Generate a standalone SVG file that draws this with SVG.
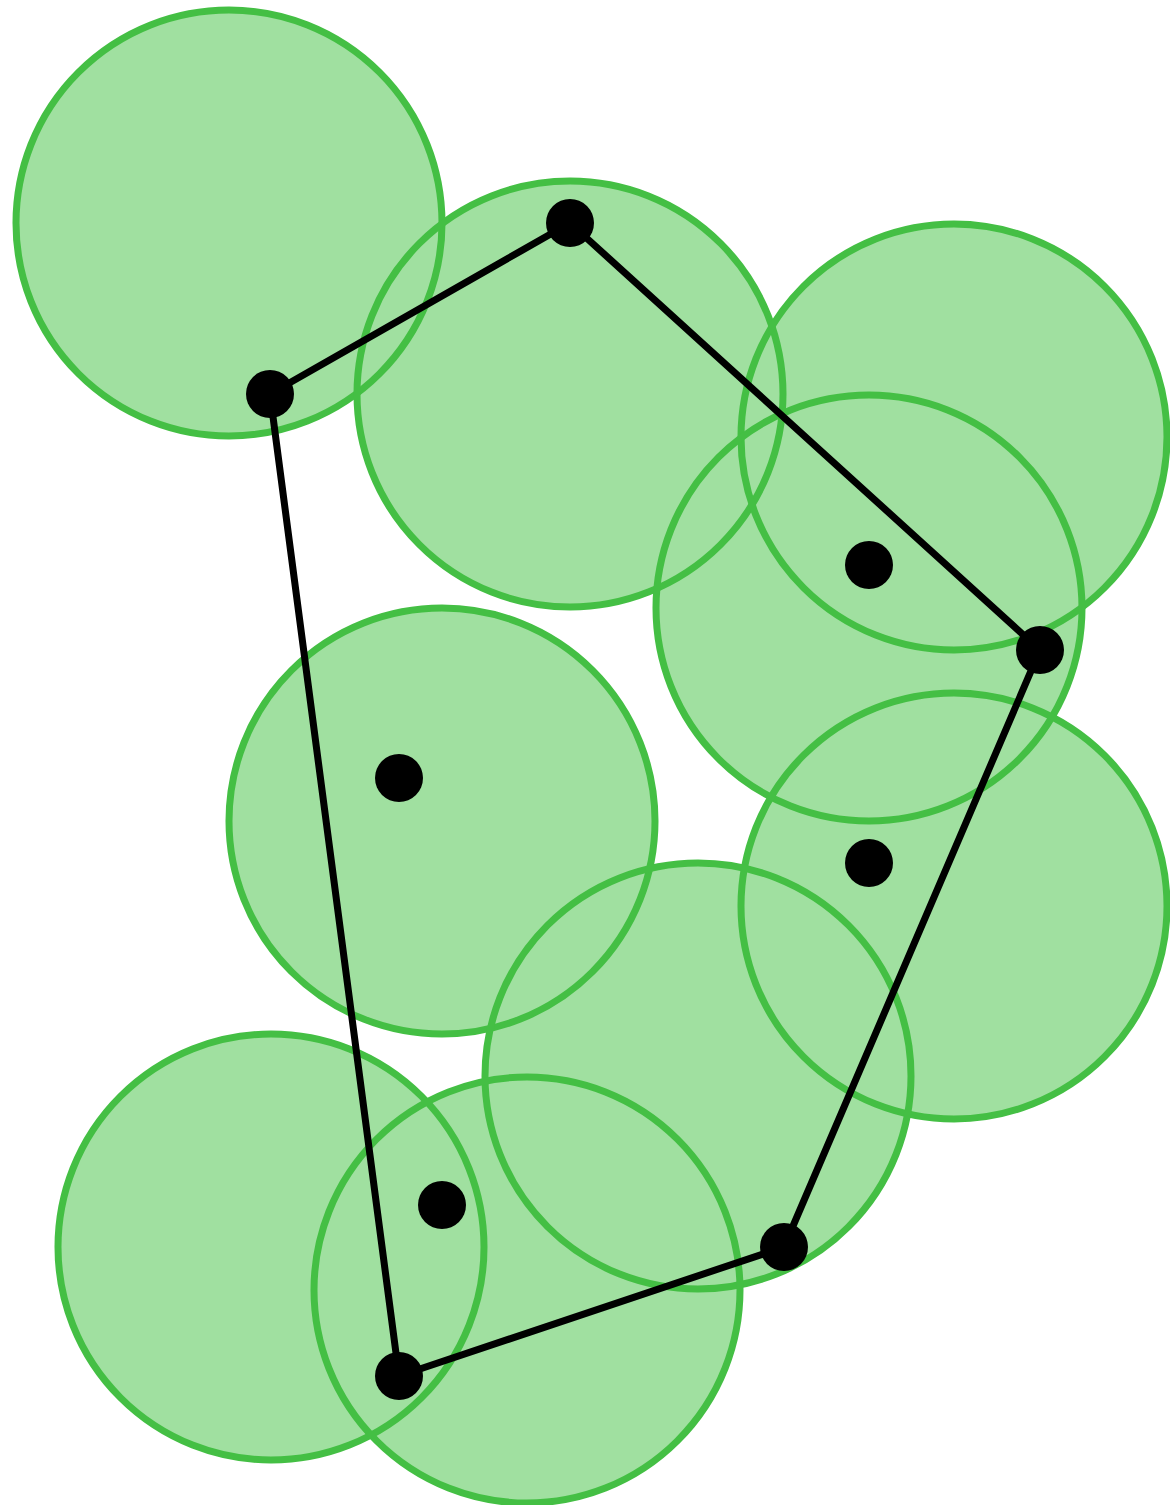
<svg xmlns="http://www.w3.org/2000/svg" width="1170" height="1505" viewBox="0 0 1170 1505">
<style>
.fill{fill:#a0e0a0;stroke:none}
.ring{fill:none;stroke:#44bf44;stroke-width:7}
.edge{fill:none;stroke:#000;stroke-width:7;stroke-linejoin:round}
.dot{fill:#000}
</style>
<defs>
<circle id="c1" cx="229" cy="223" r="213"/>
<circle id="c2" cx="570" cy="394" r="213"/>
<circle id="c3" cx="954" cy="437" r="213"/>
<circle id="c4" cx="869" cy="608" r="213"/>
<circle id="c5" cx="442" cy="821" r="213"/>
<circle id="c6" cx="954" cy="906" r="213"/>
<circle id="c7" cx="698" cy="1076" r="213"/>
<circle id="c8" cx="271" cy="1247" r="213"/>
<circle id="c9" cx="527" cy="1290" r="213"/>
</defs>
<rect width="1170" height="1505" fill="#fff"/>
<g id="disk-fills" class="fill">
<use href="#c1"/><use href="#c2"/><use href="#c3"/><use href="#c4"/><use href="#c5"/><use href="#c6"/><use href="#c7"/><use href="#c8"/><use href="#c9"/>
</g>
<g id="disk-rings" class="ring">
<use href="#c1"/><use href="#c2"/><use href="#c3"/><use href="#c4"/><use href="#c5"/><use href="#c6"/><use href="#c7"/><use href="#c8"/><use href="#c9"/>
</g>
<g id="connectors" class="edge">
<polygon points="270,394 570,223 1040,650 784,1247 399,1376"/>
</g>
<g id="points" class="dot">
<circle id="p1" cx="270" cy="394" r="24"/>
<circle id="p2" cx="570" cy="223" r="24"/>
<circle id="p3" cx="1040" cy="650" r="24"/>
<circle id="p4" cx="784" cy="1247" r="24"/>
<circle id="p5" cx="399" cy="1376" r="24"/>
<circle id="p6" cx="869" cy="565" r="24"/>
<circle id="p7" cx="399" cy="778" r="24"/>
<circle id="p8" cx="869" cy="863" r="24"/>
<circle id="p9" cx="442" cy="1205" r="24"/>
</g>
</svg>
